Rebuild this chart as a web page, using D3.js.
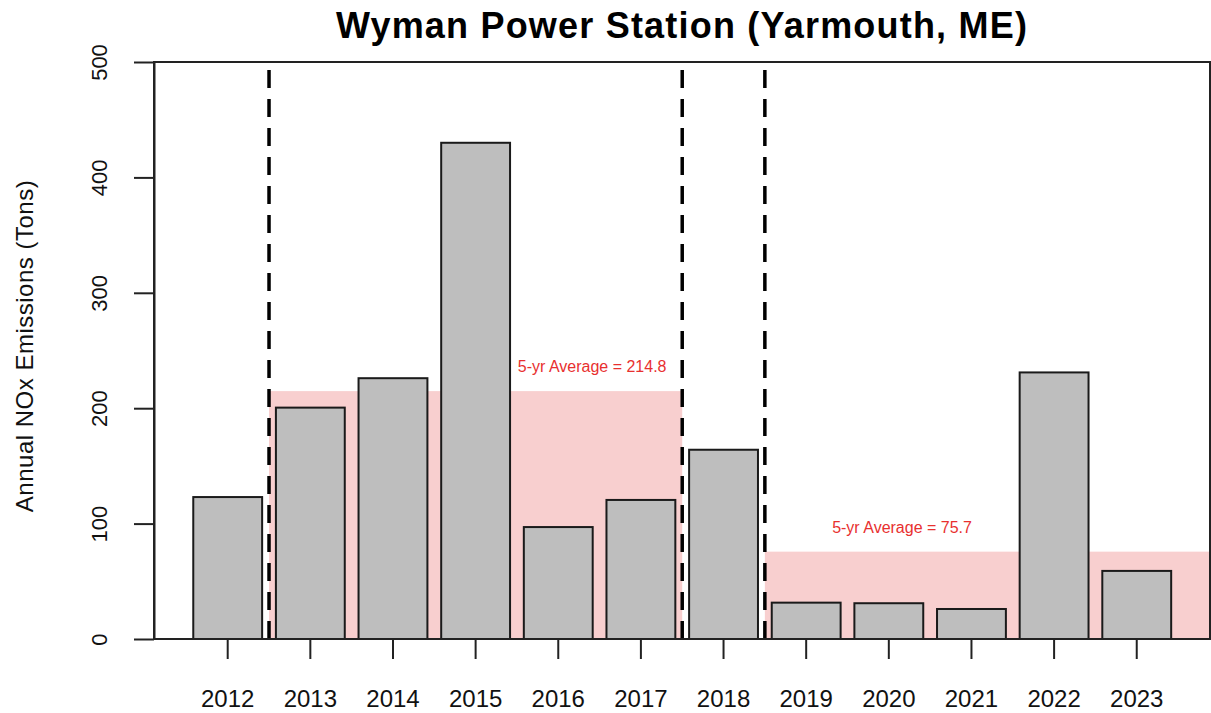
<!doctype html>
<html>

<head>
    <title>Wyman Power Station</title>
    <script src="https://d3js.org/d3.v7.min.js"></script>
    <style>
      body { margin: 0; background: #fff; }
      text { font-family: "Liberation Sans", Arial, Helvetica, sans-serif; }
    </style>
</head>

<body>

    <script>

    // chart data
    var years = [2012, 2013, 2014, 2015, 2016, 2017, 2018, 2019, 2020, 2021, 2022, 2023];
    var noxTons = [123, 200.5, 226, 430, 97, 120.5, 164, 31.5, 31, 26, 231, 59];
    var yTicks = [0, 100, 200, 300, 400, 500];

    // 5-yr average periods: start/end (in year units), average value, label position
    var avgStart = [2012.5, 2018.5];
    var avgEnd = [2017.5, null];       // null = run to the plot edge
    var avgValue = [214.8, 75.7];
    var avgLabelYear = [2016.41, 2020.16];

    // dashed separators
    var breakYears = [2012.5, 2017.5, 2018.5];

    //set canvas parameters
    var canvasWidth = 1211;
    var canvasHeight = 713;
    var plotLeft = 154, plotRight = 1210, plotTop = 62, plotBottom = 639;

    var svg = d3.select('body')
                .append('svg')
                .attr('width', canvasWidth)
                .attr('height', canvasHeight);

    // scales
    var step = 82.64;
    var firstCenter = 227.7;
    var xBand = d3.scaleBand()
                  .domain(years)
                  .range([firstCenter - step / 2, firstCenter + (years.length - 0.5) * step])
                  .paddingInner(0.2 / 1.2)
                  .paddingOuter(0.1 / 1.2);

    // continuous year -> centre of bar position
    var xYear = d3.scaleLinear()
                  .domain([years[0], years[years.length - 1]])
                  .range([xBand(years[0]) + xBand.bandwidth() / 2,
                          xBand(years[years.length - 1]) + xBand.bandwidth() / 2]);

    var yScale = d3.scaleLinear()
                   .domain([0, 500])
                   .range([plotBottom, plotTop]);

    // shaded average rectangles
    var avgData = avgValue.map(function (v, i) {
      return { x0: xYear(avgStart[i]),
               x1: avgEnd[i] === null ? plotRight : xYear(avgEnd[i]),
               v: v, lx: xYear(avgLabelYear[i]) };
    });

    svg.selectAll('rect.avg')
       .data(avgData)
       .enter()
       .append('rect')
       .attr('class', 'avg')
       .attr('x', function (d) { return d.x0; })
       .attr('width', function (d) { return d.x1 - d.x0; })
       .attr('y', function (d) { return yScale(d.v); })
       .attr('height', function (d) { return yScale(0) - yScale(d.v); })
       .attr('fill', '#f8cfcf');

    svg.selectAll('text.avg')
       .data(avgData)
       .enter()
       .append('text')
       .attr('class', 'avg')
       .attr('x', function (d) { return d.lx; })
       .attr('y', function (d) { return yScale(d.v) - 19; })
       .attr('text-anchor', 'middle')
       .attr('font-size', 16)
       .attr('fill', '#e8302f')
       .text(function (d) { return '5-yr Average = ' + d.v.toFixed(1); });

    // bars
    svg.selectAll('rect.bar')
       .data(years)
       .enter()
       .append('rect')
       .attr('class', 'bar')
       .attr('x', function (d) { return xBand(d); })
       .attr('width', xBand.bandwidth())
       .attr('y', function (d, i) { return yScale(noxTons[i]); })
       .attr('height', function (d, i) { return yScale(0) - yScale(noxTons[i]); })
       .attr('fill', '#bebebe')
       .attr('stroke', '#1a1a1a')
       .attr('stroke-width', 2);

    // dashed separators, drawn bottom -> top
    svg.selectAll('line.brk')
       .data(breakYears)
       .enter()
       .append('line')
       .attr('class', 'brk')
       .attr('x1', function (d) { return xYear(d); })
       .attr('x2', function (d) { return xYear(d); })
       .attr('y1', yScale(0))
       .attr('y2', yScale(500))
       .attr('stroke', '#000')
       .attr('stroke-width', 3.5)
       .attr('stroke-dasharray', '18,11');

    // box
    svg.append('rect')
       .attr('x', plotLeft)
       .attr('y', plotTop)
       .attr('width', plotRight - plotLeft)
       .attr('height', plotBottom - plotTop)
       .attr('fill', 'none')
       .attr('stroke', '#222')
       .attr('stroke-width', 2);

    // y axis
    var yAxis = svg.append('g')
                   .attr('transform', 'translate(' + plotLeft + ',0)')
                   .call(d3.axisLeft(yScale).tickValues(yTicks).tickSize(20).tickSizeOuter(0));
    yAxis.select('.domain').attr('stroke', '#222').attr('stroke-width', 2);
    yAxis.selectAll('.tick line').attr('stroke', '#222').attr('stroke-width', 2);
    yAxis.selectAll('.tick text')
         .attr('x', null)
         .attr('dy', '0.35em')
         .attr('transform', 'translate(-55,0) rotate(-90)')
         .attr('text-anchor', 'middle')
         .attr('font-size', 22)
         .attr('font-family', null)
         .attr('fill', '#111');

    // x axis (ticks only, no line)
    var xAxis = svg.append('g')
                   .attr('transform', 'translate(0,' + plotBottom + ')')
                   .call(d3.axisBottom(xBand).tickSize(20).tickSizeOuter(0));
    xAxis.select('.domain').remove();
    xAxis.selectAll('.tick line').attr('stroke', '#222').attr('stroke-width', 2);
    xAxis.selectAll('.tick text')
         .attr('y', 68)
         .attr('dy', 0)
         .attr('font-size', 24)
         .attr('font-family', null)
         .attr('fill', '#111');

    // title
    svg.append('text')
       .attr('x', (plotLeft + plotRight) / 2)
       .attr('y', 38)
       .attr('text-anchor', 'middle')
       .attr('font-size', 36)
       .attr('font-weight', 'bold')
       .attr('letter-spacing', '1.2px')
       .attr('fill', '#000')
       .text('Wyman Power Station (Yarmouth, ME)');

    // y axis label
    svg.append('text')
       .attr('transform', 'translate(33,346) rotate(-90)')
       .attr('text-anchor', 'middle')
       .attr('font-size', 24)
       .attr('letter-spacing', '0.5px')
       .attr('fill', '#111')
       .text('Annual NOx Emissions (Tons)');

    </script>

</body>

</html>
